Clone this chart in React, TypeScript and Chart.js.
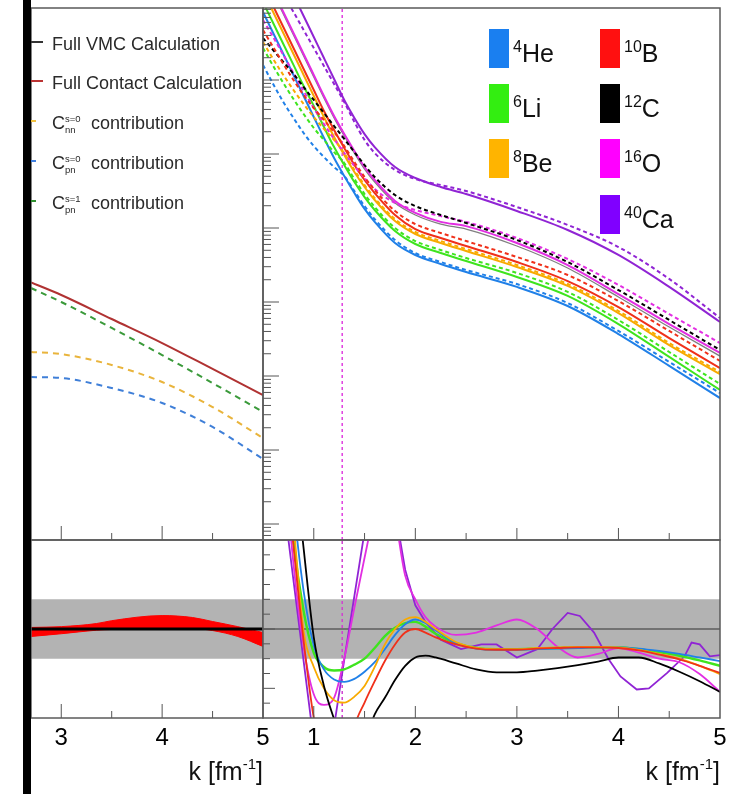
import React, { useEffect, useRef } from "react";
import { Chart, registerables } from "chart.js";
Chart.register(...registerables);

const FONT = "'Liberation Sans', Arial, Helvetica, sans-serif";

// ---------------- data: right upper panel (momentum distributions) ----------------
const kTop = [0.5, 0.6, 0.7, 0.8, 0.9, 1.0, 1.1, 1.2, 1.3, 1.4, 1.5, 1.6, 1.8, 2.0, 2.25, 2.5, 3.0, 3.5, 4.0, 4.5, 5.0];
const heVMC = [830, 432, 225, 117, 60.8, 31.6, 16.5, 8.83, 5.04, 2.97, 1.81, 1.21, 0.627, 0.432, 0.326, 0.254, 0.16, 0.0883, 0.0369, 0.0137, 0.00504];
const heContact = [160, 88.3, 50.4, 30.7, 19.2, 12.8, 9.11, 6.67, 5.04, 3.16, 1.98, 1.32, 0.688, 0.459, 0.347, 0.271, 0.175, 0.0969, 0.0406, 0.0155, 0.00589];
const liVMC = [1130, 589, 307, 160, 83.0, 44.5, 23.2, 12.4, 7.1, 4.18, 2.62, 1.75, 0.911, 0.608, 0.459, 0.358, 0.218, 0.121, 0.0504, 0.0181, 0.00647];
const liContact = [271, 155, 91.1, 55.3, 34.7, 22.5, 15.5, 10.6, 7.56, 4.59, 2.88, 1.92, 1.0, 0.667, 0.504, 0.393, 0.247, 0.137, 0.0571, 0.0211, 0.0078];
const beVMC = [1600, 830, 432, 225, 117, 60.8, 31.6, 17.0, 9.69, 5.71, 3.58, 2.39, 1.24, 0.83, 0.627, 0.489, 0.297, 0.165, 0.071, 0.0262, 0.0106];
const beContact = [326, 192, 117, 73.3, 47.4, 31.6, 21.8, 15.5, 10.3, 6.08, 3.81, 2.54, 1.32, 0.883, 0.667, 0.52, 0.316, 0.175, 0.0756, 0.0279, 0.0113];
const bVMC = [1920, 1000, 520, 271, 141, 73.3, 38.1, 21.1, 12.1, 7.1, 4.45, 2.97, 1.5, 0.969, 0.733, 0.571, 0.347, 0.192, 0.0856, 0.0326, 0.0128];
const bContact = [474, 279, 165, 100, 62.7, 41.8, 28.8, 19.8, 12.8, 7.8, 4.89, 3.26, 1.7, 1.13, 0.856, 0.667, 0.406, 0.232, 0.103, 0.0406, 0.016];
const cVMC = [2880, 1500, 780, 406, 211, 110, 57.1, 30.7, 17.5, 10.3, 6.27, 4.18, 2.18, 1.5, 1.13, 0.969, 0.571, 0.288, 0.117, 0.0459, 0.0186];
const cContact = [369, 254, 175, 121, 80.4, 53.7, 35.8, 23.9, 16.0, 10.6, 7.1, 4.89, 2.79, 1.98, 1.5, 1.17, 0.688, 0.347, 0.145, 0.0571, 0.0225];
const oVMC = [3070, 1600, 830, 432, 225, 117, 60.8, 32.6, 18.6, 11.0, 6.67, 4.45, 2.32, 1.6, 1.21, 1.06, 0.627, 0.316, 0.128, 0.0504, 0.0205];
const oContact = [647, 381, 218, 124, 71.0, 41.8, 25.4, 16.0, 10.3, 6.88, 4.74, 3.37, 2.18, 1.75, 1.45, 1.21, 0.733, 0.381, 0.17, 0.0688, 0.0279];
const caVMC = [10000, 5200, 2710, 1410, 733, 381, 198, 103, 53.7, 30.7, 18.6, 12.4, 6.67, 4.74, 3.58, 2.88, 1.7, 0.94, 0.432, 0.16, 0.0537];
const caContact = [4180, 2390, 1410, 830, 474, 271, 155, 88.3, 50.4, 27.1, 15.5, 10.3, 6.08, 4.59, 3.81, 3.16, 1.92, 1.1, 0.553, 0.205, 0.0608];

// ---------------- data: left upper panel ----------------
const kLeft = [2.7, 3.0, 3.5, 4.0, 4.5, 5.0];
const leftFullContact = [0.1845, 0.1245, 0.0589, 0.0279, 0.01245, 0.00553];
const leftPNs1 = [0.1545, 0.1, 0.0446, 0.0192, 0.00803, 0.00327];
const leftNNs0 = [0.0211, 0.0198, 0.0141, 0.0083, 0.00381, 0.00145];
const leftPNs0 = [0.00969, 0.0094, 0.00688, 0.00432, 0.00205, 0.000756];

// ---------------- data: left ratio panel ----------------
const kLeftRatio = [2.7, 3.0, 3.35, 3.5, 4.0, 4.3, 4.5, 4.75, 5.0];
const leftRatioUpper = [1.013, 1.02, 1.046, 1.07, 1.113, 1.097, 1.063, 1.02, 0.97];
const leftRatioLower = [0.937, 0.96, 0.99, 0.996, 1.004, 1.004, 0.987, 0.937, 0.853];

// ---------------- data: right ratio panel ----------------
const kRatio = [0.7, 0.8, 0.9, 1.0, 1.1, 1.2, 1.3, 1.4, 1.5, 1.6, 1.7, 1.8, 1.9, 2.0, 2.1, 2.2, 2.4, 2.6, 2.8, 3.0, 3.2, 3.4, 3.6, 3.8, 4.0, 4.2, 4.4, 4.6, 4.8, 5.0];
const heRatio = [3.0, 2.05, 1.32, 0.86, 0.66, 0.575, 0.555, 0.58, 0.64, 0.72, 0.83, 0.95, 1.04, 1.08, 1.05, 0.99, 0.88, 0.835, 0.825, 0.825, 0.83, 0.835, 0.84, 0.845, 0.845, 0.835, 0.815, 0.79, 0.76, 0.73];
const liRatio = [2.8, 1.75, 1.15, 0.8, 0.68, 0.65, 0.66, 0.7, 0.75, 0.84, 0.94, 1.01, 1.05, 1.06, 1.02, 0.96, 0.88, 0.84, 0.83, 0.83, 0.835, 0.84, 0.845, 0.845, 0.845, 0.83, 0.805, 0.775, 0.735, 0.69];
const beRatio = [2.9, 1.9, 0.98, 0.68, 0.5, 0.4, 0.38, 0.43, 0.52, 0.68, 0.87, 1.0, 1.08, 1.1, 1.06, 1.0, 0.89, 0.84, 0.83, 0.83, 0.84, 0.845, 0.85, 0.85, 0.845, 0.825, 0.79, 0.75, 0.69, 0.62];
const bRatio = [2.6, 1.7, 0.9, 0.25, -0.1, -0.3, -0.2, 0.18, 0.38, 0.56, 0.73, 0.87, 0.97, 1.0, 0.97, 0.93, 0.87, 0.835, 0.825, 0.825, 0.835, 0.84, 0.845, 0.845, 0.84, 0.82, 0.785, 0.745, 0.69, 0.63];
const cRatio = [3.5, 2.5, 1.68, 0.93, 0.52, 0.24, 0.0, -0.1, 0.05, 0.28, 0.42, 0.57, 0.69, 0.76, 0.775, 0.76, 0.71, 0.66, 0.635, 0.635, 0.65, 0.67, 0.695, 0.725, 0.76, 0.76, 0.71, 0.64, 0.56, 0.47];
const oRatio = [2.5, 1.55, 0.85, 0.45, 0.36, 0.42, 0.75, 1.18, 1.6, 2.0, 2.3, 1.95, 1.45, 1.25, 1.1, 1.02, 0.95, 0.97, 1.03, 1.08, 1.0, 0.85, 0.76, 0.79, 0.84, 0.8, 0.75, 0.72, 0.62, 0.47];
const kCaRatio = [0.7, 0.8, 0.9, 1.0, 1.1, 1.2, 1.3, 1.4, 1.5, 1.6, 1.7, 1.8, 1.9, 2.0, 2.1, 2.25, 2.45, 2.65, 2.8, 3.0, 3.2, 3.35, 3.5, 3.62, 3.76, 3.9, 4.02, 4.18, 4.3, 4.48, 4.65, 4.72, 4.8, 4.9, 5.0];
const caRatio = [2.1, 1.41, 0.73, 0.05, -0.4, 0.18, 0.74, 1.28, 1.82, 2.3, 2.4, 2.0, 1.5, 1.2, 1.06, 0.91, 0.83, 0.87, 0.87, 0.76, 0.83, 1.0, 1.135, 1.11, 0.97, 0.75, 0.6, 0.49, 0.5, 0.63, 0.77, 0.885, 0.87, 0.77, 0.78];

const kF = 1.28;
const bandLow = 0.75;
const bandHigh = 1.25;
const ratioRef = 1.0;

// ---------------- axes ----------------
const LOG_MIN = Math.pow(10, -4.216);
const LOG_MAX = Math.pow(10, 2.973);
const RATIO_MIN = 0.25;
const RATIO_MAX = 1.75;
const xTickLabelsLeft = [3, 4, 5];
const xTickLabelsRight = [1, 2, 3, 4, 5];
const xTickMarksLeft = [[3, 14], [3.5, 7], [4, 14], [4.5, 7]];
const xTickMarksRight = [[1, 12], [1.5, 7], [2, 12], [2.5, 7], [3, 12], [3.5, 7], [4, 12], [4.5, 7]];
const ratioTickMarks = [[0.5, 12], [1.0, 12], [1.5, 12], [0.375, 7], [0.625, 7], [0.75, 7], [0.875, 7], [1.125, 7], [1.25, 7], [1.375, 7], [1.625, 7]];
const logDecades = [-5, -4, -3, -2, -1, 0, 1, 2, 3];
const logTickMarks: number[][] = [];
logDecades.forEach((d) => {
  logTickMarks.push([Math.pow(10, d), 16]);
  for (let m = 2; m <= 9; m++) logTickMarks.push([m * Math.pow(10, d), 8]);
});

// ---------------- colours ----------------
const C_HE = "#2080e8";
const C_LI = "#3ee41e";
const C_BE = "#f8aa00";
const C_B = "#f0301a";
const C_C = "#000000";
const C_O = "#e22ee2";
const C_CA = "#9024d4";

const frameTicks = {
  id: "frameTicks",
  afterDatasetsDraw(chart: any, _a: any, opts: any) {
    const { ctx, chartArea: a } = chart;
    const xs = chart.scales.x;
    const ys = chart.scales.y;
    ctx.save();
    ctx.strokeStyle = "#555";
    ctx.lineWidth = 1;
    for (const [v, len] of opts.xTicks || []) {
      const px = xs.getPixelForValue(v);
      ctx.beginPath();
      ctx.moveTo(px, a.bottom);
      ctx.lineTo(px, a.bottom - len);
      ctx.stroke();
    }
    for (const [v, len] of opts.yTicks || []) {
      const py = ys.getPixelForValue(v);
      if (py < a.top || py > a.bottom) continue;
      ctx.beginPath();
      ctx.moveTo(a.left, py);
      ctx.lineTo(a.left + len, py);
      ctx.stroke();
    }
    ctx.lineWidth = 1.5;
    ctx.strokeStyle = "#5a5a5a";
    ctx.strokeRect(a.left, a.top, a.right - a.left, a.bottom - a.top);
    ctx.restore();
  },
};

function ds(xs: number[], ys: number[], color: string, width: number, extra: any = {}) {
  return {
    data: xs.map((x, i) => ({ x, y: ys[i] })),
    borderColor: color,
    backgroundColor: color,
    borderWidth: width,
    pointRadius: 0,
    fill: false,
    cubicInterpolationMode: "monotone",
    clip: 0,
    order: 10,
    ...extra,
  };
}

function makeConfig(datasets: any[], padding: any, x: any, y: any, ticksOpt: any) {
  return {
    type: "line",
    data: { datasets },
    options: {
      responsive: false,
      animation: false,
      devicePixelRatio: 1,
      events: [],
      layout: { padding },
      plugins: { legend: { display: false }, tooltip: { enabled: false }, frameTicks: ticksOpt },
      scales: { x, y },
    },
    plugins: [frameTicks],
  };
}

function hiddenX(min: number, max: number) {
  return { type: "linear", min, max, display: false };
}
function labelledX(min: number, max: number, labels: number[]) {
  return {
    type: "linear",
    min,
    max,
    display: true,
    position: "bottom",
    grid: { display: false, drawTicks: false },
    border: { display: false },
    afterBuildTicks: (s: any) => {
      s.ticks = labels.map((v) => ({ value: v }));
    },
    ticks: {
      font: { size: 24, family: FONT },
      color: "#000",
      padding: 6,
      maxRotation: 0,
      autoSkip: false,
      callback: (v: any) => String(v),
    },
  };
}
const logY = { type: "logarithmic", min: LOG_MIN, max: LOG_MAX, display: false };
const ratioY = { type: "linear", min: RATIO_MIN, max: RATIO_MAX, display: false };

type Area = { l: number; t: number; r: number; b: number };
const PAD_L = 24, PAD_R = 24, PAD_T = 8;

function Panel({ area, axis, build }: { area: Area; axis: boolean; build: (p: any) => any }) {
  const ref = useRef<HTMLCanvasElement>(null);
  const bottomPad = axis ? 41 : 8;
  const w = area.r - area.l + PAD_L + PAD_R;
  const h = area.b - area.t + PAD_T + bottomPad;
  useEffect(() => {
    const cfg = build({ left: PAD_L, right: PAD_R, top: PAD_T, bottom: axis ? 41 - 40.8 : 8 });
    const chart = new Chart(ref.current as HTMLCanvasElement, cfg as any);
    return () => chart.destroy();
  }, []);
  return (
    <canvas
      ref={ref}
      width={w}
      height={h}
      style={{ position: "absolute", left: area.l - PAD_L, top: area.t - PAD_T, width: w, height: h }}
    />
  );
}

const buildLT = (p: any) =>
  makeConfig(
    [
      ds(kLeft, leftFullContact, "#b03232", 2),
      ds(kLeft, leftPNs1, "#3a9a3a", 2, { borderDash: [6, 5] }),
      ds(kLeft, leftNNs0, "#e9b43c", 2, { borderDash: [6, 5] }),
      ds(kLeft, leftPNs0, "#3f7fd8", 2, { borderDash: [6, 5] }),
    ],
    p,
    hiddenX(2.7, 5),
    logY,
    { xTicks: xTickMarksLeft }
  );

const buildLB = (p: any) =>
  makeConfig(
    [
      ds([2.7, 5], [bandHigh, bandHigh], "#b3b3b3", 0, { fill: "+1", order: 100, cubicInterpolationMode: "default" }),
      ds([2.7, 5], [bandLow, bandLow], "#b3b3b3", 0, { order: 100, cubicInterpolationMode: "default" }),
      ds(kLeftRatio, leftRatioUpper, "#ff0000", 1, { fill: "+1", order: 40 }),
      ds(kLeftRatio, leftRatioLower, "#ff0000", 1, { order: 40 }),
      ds([2.7, 5], [ratioRef, ratioRef], "#000", 3.2, { order: 5, cubicInterpolationMode: "default" }),
    ],
    p,
    labelledX(2.7, 5, xTickLabelsLeft),
    ratioY,
    { xTicks: xTickMarksLeft }
  );

const dashed = { borderDash: [4, 3], order: 8 };
const buildRT = (p: any) =>
  makeConfig(
    [
      ds(kTop, heVMC, C_HE, 2),
      ds(kTop, liVMC, C_LI, 2),
      ds(kTop, beVMC, C_BE, 2),
      ds(kTop, bVMC, C_B, 2),
      ds(kTop, oVMC, C_O, 2),
      ds(kTop, cVMC, "rgba(0,0,0,0.5)", 1.3),
      ds(kTop, caVMC, C_CA, 2),
      ds(kTop, heContact, C_HE, 2, dashed),
      ds(kTop, liContact, C_LI, 2, dashed),
      ds(kTop, beContact, C_BE, 2, dashed),
      ds(kTop, bContact, C_B, 2, dashed),
      ds(kTop, cContact, C_C, 2, dashed),
      ds(kTop, oContact, C_O, 2, dashed),
      ds(kTop, caContact, C_CA, 2, dashed),
      ds([kF, kF], [LOG_MIN, LOG_MAX], "#e040e0", 1.5, { borderDash: [3, 3], order: 60, cubicInterpolationMode: "default" }),
    ],
    p,
    hiddenX(0.5, 5),
    logY,
    { xTicks: xTickMarksRight, yTicks: logTickMarks }
  );

const buildRB = (p: any) =>
  makeConfig(
    [
      ds([0.5, 5], [bandHigh, bandHigh], "#b3b3b3", 0, { fill: "+1", order: 100, cubicInterpolationMode: "default" }),
      ds([0.5, 5], [bandLow, bandLow], "#b3b3b3", 0, { order: 100, cubicInterpolationMode: "default" }),
      ds([0.5, 5], [ratioRef, ratioRef], "#333", 1.2, { order: 50, cubicInterpolationMode: "default" }),
      ds([kF, kF], [RATIO_MIN, RATIO_MAX], "#d040d0", 1.5, { borderDash: [3, 3], order: 45, cubicInterpolationMode: "default" }),
      ds(kRatio, cRatio, C_C, 1.8),
      ds(kRatio, bRatio, C_B, 1.8),
      ds(kRatio, beRatio, C_BE, 1.8),
      ds(kRatio, heRatio, C_HE, 1.8),
      ds(kRatio, liRatio, C_LI, 2.4),
      ds(kRatio, oRatio, C_O, 1.8),
      ds(kCaRatio, caRatio, C_CA, 1.8, { cubicInterpolationMode: "default", tension: 0 }),
    ],
    p,
    labelledX(0.5, 5, xTickLabelsRight),
    ratioY,
    { xTicks: xTickMarksRight, yTicks: ratioTickMarks }
  );

// ---------------- legends ----------------
const leftLegend = [
  { y: 44, color: "#333", w: 12, text: "Full VMC Calculation" },
  { y: 83, color: "#b33", w: 12, text: "Full Contact Calculation" },
  { y: 123, color: "#f0c040", w: 5, sup: "s=0", sub: "nn" },
  { y: 163, color: "#4080e0", w: 5, sup: "s=0", sub: "pn" },
  { y: 203, color: "#309030", w: 5, sup: "s=1", sub: "pn" },
];
const nuclei = [
  { mass: "4", sym: "He", color: "#1a7ff0" },
  { mass: "6", sym: "Li", color: "#33ee11" },
  { mass: "8", sym: "Be", color: "#ffb400" },
  { mass: "10", sym: "B", color: "#ff1010" },
  { mass: "12", sym: "C", color: "#000000" },
  { mass: "16", sym: "O", color: "#ff00ff" },
  { mass: "40", sym: "Ca", color: "#8000ff" },
];

function txt(x: number, cy: number, fs: number, color = "#2a2a2a"): React.CSSProperties {
  return {
    position: "absolute",
    left: x,
    top: cy - fs / 2,
    fontSize: fs,
    lineHeight: fs + "px",
    whiteSpace: "nowrap",
    color,
  };
}

export default function App() {
  return (
    <div
      style={{
        position: "absolute",
        left: 0,
        top: 0,
        width: 745,
        height: 794,
        overflow: "hidden",
        background: "#fff",
        fontFamily: FONT,
      }}
    >
      <Panel area={{ l: 31, t: 8, r: 263, b: 540 }} axis={false} build={buildLT} />
      <Panel area={{ l: 263, t: 8, r: 720, b: 540 }} axis={false} build={buildRT} />
      <Panel area={{ l: 31, t: 540, r: 263, b: 718 }} axis={true} build={buildLB} />
      <Panel area={{ l: 263, t: 540, r: 720, b: 718 }} axis={true} build={buildRB} />

      <div style={{ position: "absolute", left: 23, top: 0, width: 8, height: 794, background: "#000" }} />

      {leftLegend.map((it, i) => (
        <React.Fragment key={i}>
          <div style={{ position: "absolute", left: 31, top: it.y - 3, width: it.w, height: 1.5, background: it.color }} />
          {it.text ? (
            <div style={txt(52, it.y, 18)}>{it.text}</div>
          ) : (
            <>
              <div style={txt(52, it.y, 18)}>C</div>
              <div style={txt(65, it.y - 4, 9.5)}>{it.sup}</div>
              <div style={txt(65, it.y + 7, 9.5)}>{it.sub}</div>
              <div style={txt(91, it.y, 18)}>contribution</div>
            </>
          )}
        </React.Fragment>
      ))}

      {nuclei.map((n, i) => {
        const col = i < 3 ? 0 : 1;
        const row = i < 3 ? i : i - 3;
        const rx = col ? 600 : 489;
        const ry = 29 + row * 55.2;
        return (
          <React.Fragment key={n.sym}>
            <div style={{ position: "absolute", left: rx, top: ry, width: 20, height: 39, background: n.color }} />
            <div
              style={{
                position: "absolute",
                left: rx + 24,
                top: ry + 12,
                fontSize: 25,
                lineHeight: "25px",
                whiteSpace: "nowrap",
                color: "#111",
              }}
            >
              <span style={{ fontSize: 16, position: "relative", top: -10 }}>{n.mass}</span>
              {n.sym}
            </div>
          </React.Fragment>
        );
      })}

      {[263, 720].map((rx) => (
        <div
          key={rx}
          style={{
            position: "absolute",
            right: 745 - rx,
            top: 759,
            fontSize: 25,
            lineHeight: "25px",
            whiteSpace: "nowrap",
            color: "#111",
          }}
        >
          k [fm<span style={{ fontSize: 15, position: "relative", top: -11 }}>-1</span>]
        </div>
      ))}
    </div>
  );
}
